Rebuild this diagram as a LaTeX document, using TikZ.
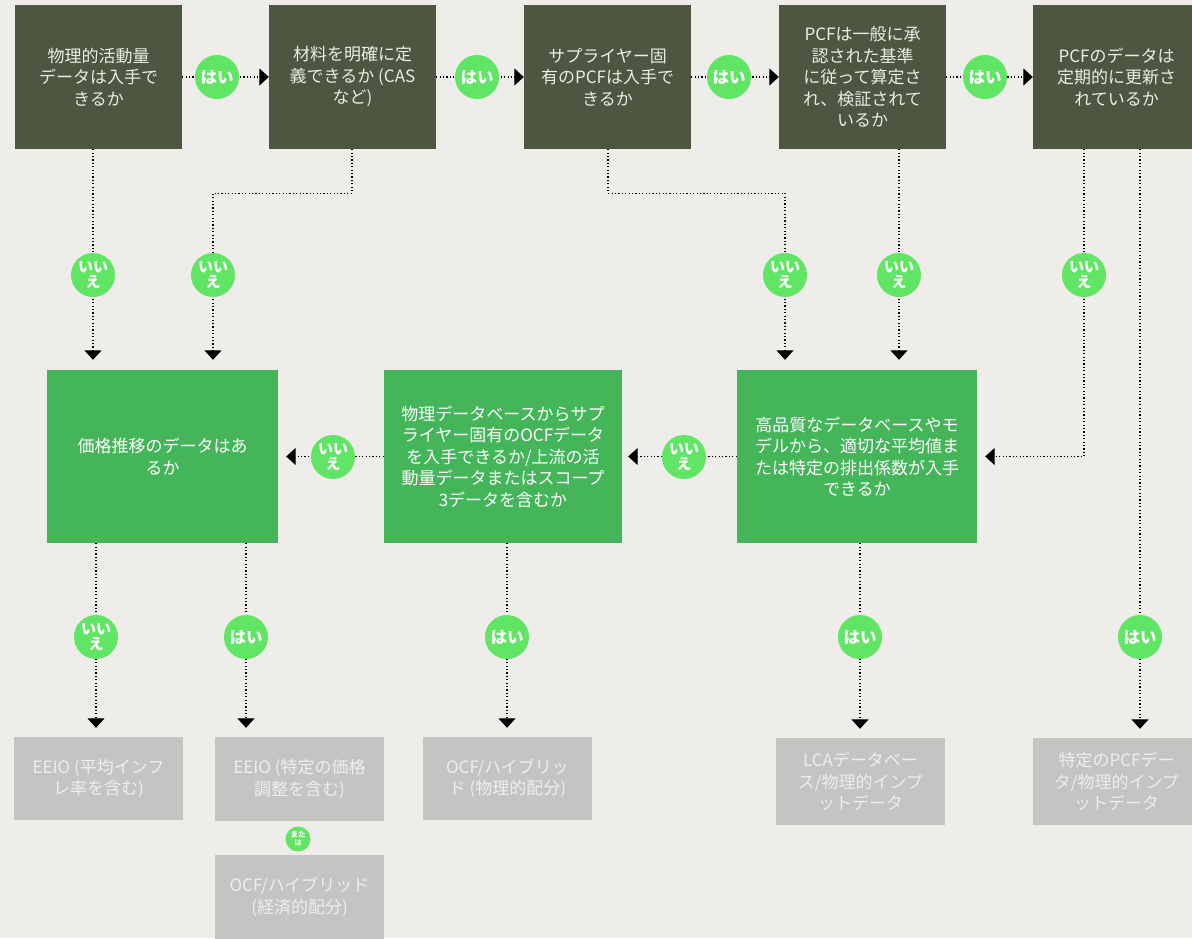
\documentclass[tikz,border=0pt]{standalone}
\usepackage{fontspec}
\setmainfont{Noto Sans CJK JP}
\usetikzlibrary{arrows.meta}
\definecolor{bgc}{HTML}{EEEDE9}
\definecolor{darkc}{HTML}{4C5640}
\definecolor{darktxt}{HTML}{ECECE6}
\definecolor{greenc}{HTML}{45B55A}
\definecolor{grayc}{HTML}{C4C4C2}
\definecolor{graytxt}{HTML}{EEEEEC}
\definecolor{badgec}{HTML}{60E565}
\begin{document}
\begin{tikzpicture}[x=1pt,y=-1pt,
  boxtext/.style={inner sep=0pt, align=center, font=\fontsize{17}{21.5}\selectfont},
  darkbox/.style={boxtext, fill=darkc, text=darktxt, minimum width=167pt, minimum height=144pt},
  greenbox/.style={boxtext, fill=greenc, text=white, minimum height=173pt},
  graybox/.style={boxtext, fill=grayc, text=graytxt, minimum width=169pt},
  badge/.style={circle, fill=badgec, text=white, inner sep=0pt, minimum size=44pt, align=center, font=\bfseries\fontsize{16.5}{16.5}\selectfont},
  nobadge/.style={badge, font=\bfseries\fontsize{15}{15}\selectfont},
  orbadge/.style={badge, minimum size=25pt, font=\bfseries\fontsize{7.5}{8}\selectfont},
  conn/.style={draw=black, line width=1.2pt, dash pattern=on 1.2pt off 2.2pt, -{Triangle[width=17pt,length=9.5pt]}},
]
\clip (0,0) rectangle (1192,938);
\fill[bgc] (0,0) rectangle (1192,938);

% top row
\node[darkbox] (b1) at (98.5,77) {物理的活動量\\データは入手で\\きるか};
\node[darkbox] (b2) at (352.5,77) {材料を明確に定\\義できるか (CAS\\など)};
\node[darkbox] (b3) at (607.5,77) {サプライヤー固\\有のPCFは入手で\\きるか};
\node[darkbox] (b4) at (862.5,77) {PCFは一般に承\\認された基準\\に従って算定さ\\れ、検証されて\\いるか};
\node[darkbox] (b5) at (1116.5,77) {PCFのデータは\\定期的に更新さ\\れているか};

% middle row
\node[greenbox, minimum width=231pt] (g1) at (162.5,456.5) {価格推移のデータはあ\\るか};
\node[greenbox, minimum width=238pt] (g2) at (503,456.5) {物理データベースからサプ\\ライヤー固有のOCFデータ\\を入手できるか/上流の活\\動量データまたはスコープ\\3データを含むか};
\node[greenbox, minimum width=240pt] (g3) at (857,456.5) {高品質なデータベースやモ\\デルから、適切な平均値ま\\たは特定の排出係数が入手\\できるか};

% bottom row
\node[graybox, minimum height=83pt] (r1) at (98.5,778.5) {EEIO (平均インフ\\レ率を含む)};
\node[graybox, minimum height=84pt] (r2) at (299.5,779) {EEIO (特定の価格\\調整を含む)};
\node[graybox, minimum height=84pt] (r3) at (299.5,897) {OCF/ハイブリッド\\(経済的配分)};
\node[graybox, minimum height=83pt] (r4) at (507.5,778.5) {OCF/ハイブリッ\\ド (物理的配分)};
\node[graybox, minimum height=87pt] (r5) at (860.5,781.5) {LCAデータベー\\ス/物理的インプ\\ットデータ};
\node[graybox, minimum width=167pt, minimum height=87pt] (r6) at (1116.5,781.5) {特定のPCFデー\\タ/物理的インプ\\ットデータ};

% connectors: top row
\draw[conn] (b1.east) -- (b2.west);
\draw[conn] (b2.east) -- (b3.west);
\draw[conn] (b3.east) -- (b4.west);
\draw[conn] (b4.east) -- (b5.west);

% connectors: top to middle
\draw[conn, shorten >=10pt] ([xshift=-5.5pt]b1.south) -- ([xshift=-5.5pt]b1.south |- g1.north);
\draw[conn, shorten >=10pt] ([xshift=-0.5pt]b2.south) -- ++(0,44) -| ([xshift=50.5pt]g1.north);
\draw[conn, shorten >=10pt] ([xshift=0.5pt]b3.south) -- ++(0,44) -| ([xshift=-72pt]g3.north);
\draw[conn, shorten >=10pt] ([xshift=36.5pt]b4.south) -- ([xshift=36.5pt]b4.south |- g3.north);
\draw[conn, shorten >=8pt] ([xshift=-32.5pt]b5.south) |- (g3.east);
\draw[conn, shorten >=9pt] ([xshift=23.5pt]b5.south) -- ([xshift=23.5pt]b5.south |- r6.north);

% middle row
\draw[conn, shorten >=6pt] (g3.west) -- (g2.east);
\draw[conn, shorten >=8pt] (g2.west) -- (g1.east);

% middle to bottom
\draw[conn, shorten >=9pt] ([xshift=-66.5pt]g1.south) -- ([xshift=-66.5pt]g1.south |- r1.north);
\draw[conn, shorten >=9pt] ([xshift=83.5pt]g1.south) -- ([xshift=83.5pt]g1.south |- r2.north);
\draw[conn, shorten >=9pt] ([xshift=4pt]g2.south) -- ([xshift=4pt]g2.south |- r4.north);
\draw[conn, shorten >=9pt] ([xshift=3pt]g3.south) -- ([xshift=3pt]g3.south |- r5.north);

% badges
\node[badge] (y1) at (217,77) {はい};
\node[badge] (y2) at (477,77) {はい};
\node[badge] (y3) at (729,77) {はい};
\node[badge] (y4) at (985,77) {はい};
\node[nobadge] (n1) at (93,275) {いい\\え};
\node[nobadge] (n2) at (213,275) {いい\\え};
\node[nobadge] (n3) at (785,275) {いい\\え};
\node[nobadge] (n4) at (899,275) {いい\\え};
\node[nobadge] (n5) at (1084,275) {いい\\え};
\node[nobadge] (n6) at (333,457) {いい\\え};
\node[nobadge] (n7) at (684,457) {いい\\え};
\node[nobadge] (n8) at (96,637) {いい\\え};
\node[badge] (y5) at (246,637) {はい};
\node[badge] (y6) at (507,637) {はい};
\node[badge] (y7) at (860,637) {はい};
\node[badge] (y8) at (1140,637) {はい};
\node[orbadge] (o1) at (298,839) {また\\は};
\end{tikzpicture}
\end{document}
